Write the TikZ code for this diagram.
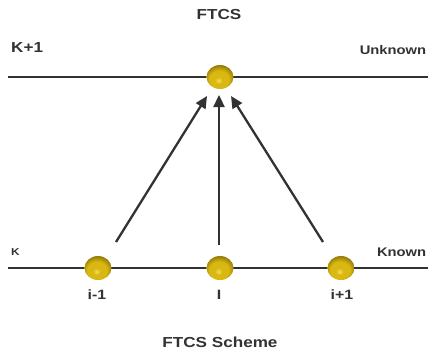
\documentclass[tikz,border=0pt]{standalone}
\usepackage{fontspec}
\setmainfont{Liberation Sans}
\usetikzlibrary{arrows.meta,shapes.geometric}
\definecolor{gold}{RGB}{218,184,18}
\definecolor{goldlight}{RGB}{246,222,90}
\definecolor{golddark}{RGB}{150,125,10}
\definecolor{ink}{RGB}{50,50,50}
% golden sphere, highlight a little below the centre
\pgfdeclareradialshading{goldball}{\pgfpoint{-3bp}{-8bp}}{%
  color(0bp)=(goldlight); color(7bp)=(gold); color(18bp)=(gold);
  color(28bp)=(golddark); color(50bp)=(golddark)}
\tikzset{
  x=1pt, y=-1pt,
  gridline/.style={draw=ink, line width=2.5pt},
  node ball/.style={ellipse, minimum width=27pt, minimum height=24pt, inner sep=0pt,
    shading=goldball},
  dep/.style={draw=ink, line width=2.3pt, -{Triangle[length=12pt,width=11pt]}},
  lbl/.style={transform shape, xscale=1.18, text=ink},
  title/.style={lbl, font=\fontsize{14.5}{16}\selectfont\bfseries},
  idx/.style={lbl, font=\fontsize{13.5}{15}\selectfont\bfseries},
  edge label/.style={lbl, anchor=east, inner sep=0.5pt},
}
\begin{document}
\begin{tikzpicture}
  \useasboundingbox (0,0) rectangle (428,353);
  % time levels
  \draw[gridline] (8,77) -- (428,77);
  \draw[gridline] (8,268) -- (428,268);
  % grid points
  \node[node ball] (top) at (220,77) {};
  \node[node ball] (bl) at (98,268) {};
  \node[node ball] (bm) at (220,268) {};
  \node[node ball] (br) at (341,268) {};
  % dependencies
  \coordinate (sl) at (116,242);
  \coordinate (sm) at (219,245);
  \coordinate (sr) at (323,242);
  \coordinate (tl) at (207,96);
  \coordinate (tm) at (219,95);
  \coordinate (tr) at (231,96);
  \draw[dep] (sl) -- (tl);
  \draw[dep] (sm) -- (tm);
  \draw[dep] (sr) -- (tr);
  % labels
  \node[title] (ftcs) at (219,15) {FTCS};
  \node[title, anchor=west] (kp) at (7,48) {K+1};
  \node[edge label, font=\fontsize{12.5}{15}\selectfont\bfseries] (unk) at (427,50) {Unknown};
  \node[lbl, anchor=west, font=\fontsize{10}{12}\selectfont\bfseries] (k) at (7,252) {K};
  \node[edge label, font=\fontsize{12.5}{15}\selectfont\bfseries] (kn) at (427,252) {Known};
  \node[idx] (im) at (97,295) {i-1};
  \node[idx] (ii) at (219,295) {I};
  \node[idx] (ip) at (342,295) {i+1};
  \node[title] (scheme) at (220,342) {FTCS Scheme};
\end{tikzpicture}
\end{document}
